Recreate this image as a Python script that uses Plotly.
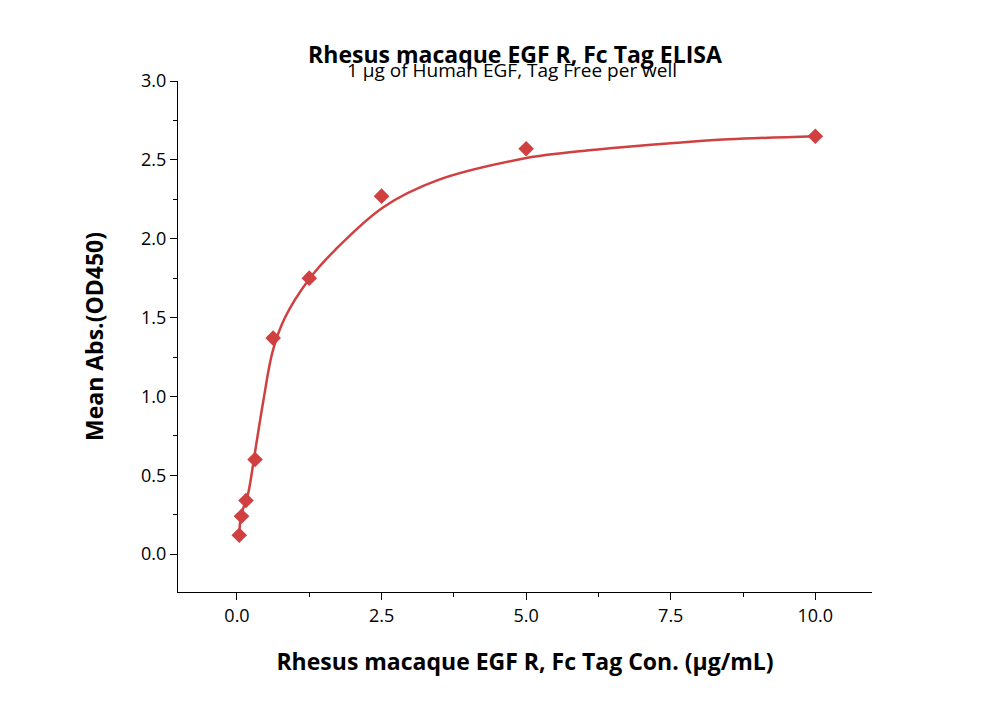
import plotly.graph_objects as go

# measured points
conc = [0.039, 0.078, 0.156, 0.3125, 0.625, 1.25, 2.5, 5.0, 10.0]
od450 = [0.12, 0.24, 0.34, 0.60, 1.37, 1.75, 2.27, 2.57, 2.65]

# fitted curve
fit_x = [0.039, 0.07, 0.19, 0.30, 0.45, 0.62, 0.83, 1.24, 1.70, 2.53, 3.46, 4.98, 5.68, 6.5, 7.5, 8.5, 10.0]
fit_y = [0.116, 0.245, 0.38, 0.62, 0.96, 1.29, 1.50, 1.74, 1.93, 2.20, 2.37, 2.51, 2.545, 2.575, 2.605, 2.63, 2.65]

red = "#d04040"
font = "Open Sans"

fig = go.Figure()
fig.add_trace(go.Scatter(x=fit_x, y=fit_y, mode="lines", line=dict(color=red, width=2.5, shape="spline")))
fig.add_trace(go.Scatter(x=conc, y=od450, mode="markers",
                         marker=dict(symbol="diamond", size=12, color=red)))

axis = dict(showline=True, linecolor="black", linewidth=1.2, ticks="outside", ticklen=7,
            tickcolor="black", showgrid=False, zeroline=False, mirror=False,
            tickfont=dict(size=18, color="black", family=font))

fig.update_layout(
    width=1000, height=702, showlegend=False,
    plot_bgcolor="white", paper_bgcolor="white",
    margin=dict(l=170, r=136, t=73, b=118),
    title=dict(text="<b>Rhesus macaque EGF R, Fc Tag ELISA</b>", x=0.507, xanchor="center",
               y=0.933, yanchor="middle", font=dict(size=23, family=font, color="black")),
    xaxis=dict(axis, range=[-1.02, 10.98], tickvals=[0, 2.5, 5, 7.5, 10],
               ticktext=["0.0", "2.5", "5.0", "7.5", "10.0"],
               minor=dict(ticks="outside", ticklen=4, tickcolor="black", dtick=1.25),
               title=dict(text="<b>Rhesus macaque EGF R, Fc Tag Con. (μg/mL)</b>",
                          font=dict(size=23, family=font, color="black"), standoff=28)),
    yaxis=dict(axis, range=[-0.24, 3.0], tickvals=[0, 0.5, 1, 1.5, 2, 2.5, 3],
               ticktext=["0.0", "0.5", "1.0", "1.5", "2.0", "2.5", "3.0"],
               minor=dict(ticks="outside", ticklen=4, tickcolor="black", dtick=0.25),
               title=dict(text="<b>Mean Abs.(OD450)</b>",
                          font=dict(size=23, family=font, color="black"), standoff=30)),
    annotations=[dict(text="1 μg of Human EGF, Tag Free per well", xref="paper", yref="paper",
                      x=0.481, y=1.05, yanchor="top", showarrow=False,
                      font=dict(size=19, family=font, color="black"))],
)

fig.write_html("out.html")
